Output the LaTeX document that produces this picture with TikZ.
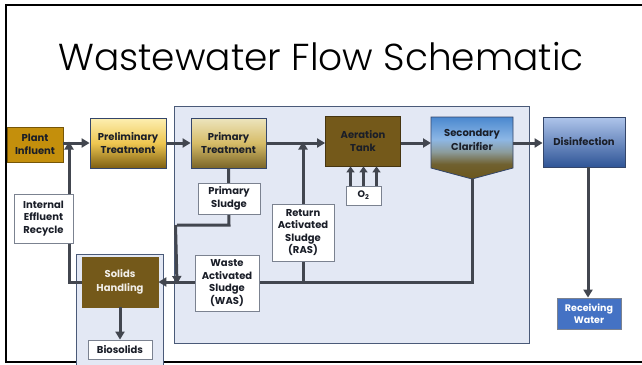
\documentclass[tikz,border=0pt]{standalone}
\usepackage{fontspec}
\setmainfont{Poppins}[BoldFont={Poppins Bold}]
\newfontfamily\titlefont{Poppins Light}
\usetikzlibrary{arrows.meta}

\definecolor{ink}{HTML}{1A1E28}
\definecolor{wire}{HTML}{42464F}
\definecolor{panelfill}{HTML}{E3E8F4}
\definecolor{paneledge}{HTML}{4A5A78}
\definecolor{tagedge}{HTML}{7B8290}
\definecolor{gold}{HTML}{C48F0C}
\definecolor{olive}{HTML}{74591A}
\definecolor{navyedge}{HTML}{34466A}
\definecolor{riverblue}{HTML}{4472C4}
% gradient stops
\definecolor{preTop}{HTML}{FDEFB2}
\definecolor{preMid}{HTML}{EEC650}
\definecolor{preBot}{HTML}{7E5F12}
\definecolor{priTop}{HTML}{EDE5BE}
\definecolor{priMid}{HTML}{D6BC68}
\definecolor{priBot}{HTML}{7A6528}
\definecolor{clTop}{HTML}{4A88CF}
\definecolor{clMid}{HTML}{8DB7E5}
\definecolor{clLow}{HTML}{8C9C9C}
\definecolor{clBot}{HTML}{6B561C}
\definecolor{disTop}{HTML}{AFC5EB}
\definecolor{disBot}{HTML}{2F5597}

\pgfdeclareverticalshading{prelimshade}{100bp}{color(0bp)=(preBot); color(25bp)=(preBot); color(50bp)=(preMid); color(75bp)=(preTop); color(100bp)=(preTop)}
\pgfdeclareverticalshading{primshade}{100bp}{color(0bp)=(priBot); color(25bp)=(priBot); color(50bp)=(priMid); color(75bp)=(priTop); color(100bp)=(priTop)}
\pgfdeclareverticalshading{clarshade}{100bp}{color(0bp)=(clBot); color(25bp)=(clBot); color(37bp)=(clBot!85!clLow); color(47bp)=(clLow); color(57bp)=(clMid); color(75bp)=(clTop); color(100bp)=(clTop)}
\pgfdeclareverticalshading{disshade}{100bp}{color(0bp)=(disBot); color(25bp)=(disBot); color(75bp)=(disTop); color(100bp)=(disTop)}

\tikzset{
  unit/.style={draw=navyedge, line width=0.8pt, rectangle, inner sep=0pt, align=center,
    text=ink, font=\bfseries\fontsize{10}{13.5}\selectfont},
  tag/.style={draw=tagedge, fill=white, line width=0.8pt, rectangle, inner sep=0pt, align=center,
    text=ink, font=\bfseries\fontsize{10}{12.5}\selectfont},
  panel/.style={draw=paneledge, fill=panelfill, line width=0.8pt},
  flow/.style={draw=wire, line width=3pt, -{Triangle[length=8pt,width=9pt]}},
  pipe/.style={draw=wire, line width=3pt},
}

\begin{document}
\begin{tikzpicture}[x=1pt, y=-1pt]
\useasboundingbox (0,0) rectangle (642,364);
\fill[white] (0,0) rectangle (642,364);

% slide frame (left, top and bottom edges)
\draw[black, line width=2.5pt] (642,5) -- (6,5) -- (6,362) -- (642,362);

% title
\node[font=\titlefont\fontsize{37.5}{44}\selectfont, text=black] (title) at (321,57) {Wastewater Flow Schematic};

% background panels
\draw[panel] (174,106) rectangle (529,343);
\draw[panel] (76,254) rectangle (163,366);

% process units
\node[unit, fill=gold, draw=gold!60!black, minimum width=56pt, minimum height=35pt] (inf) at (35,144.5) {Plant\\Influent};
\node[unit, shading=prelimshade, minimum width=76pt, minimum height=50pt] (pre) at (128,143) {Preliminary\\Treatment};
\node[unit, shading=primshade, minimum width=75pt, minimum height=50pt] (pri) at (228.5,143) {Primary\\Treatment};
\node[unit, fill=olive, draw=olive!60!black, minimum width=75pt, minimum height=50pt] (aer) at (363,141) {Aeration\\Tank};
\node[unit, shading=disshade, minimum width=82pt, minimum height=50pt] (dis) at (584,142) {Disinfection};

% secondary clarifier with hopper bottom
\shade[shading=clarshade, draw=navyedge, line width=0.8pt]
  (431,117) -- (513,117) -- (513,168) -- (472,179) -- (431,168) -- cycle;
\node[font=\bfseries\fontsize{10}{13.5}\selectfont, text=ink, align=center] (clar) at (472,140) {Secondary\\Clarifier};
\coordinate (clarL) at (431,143);
\coordinate (clarR) at (513,143);
\coordinate (clarTip) at (472,179);

% solids train and receiving water
\node[unit, fill=olive, draw=olive, text=white!90!olive, minimum width=76pt, minimum height=50pt] (sol) at (120,282) {Solids\\Handling};
\node[tag, minimum width=64pt, minimum height=19pt] (bio) at (120,349.5) {Biosolids};
\node[unit, fill=riverblue, draw=tagedge, text=white, font=\bfseries\fontsize{9.5}{12}\selectfont, minimum width=64pt, minimum height=31pt] (rec) at (589,313.5) {Receiving\\Water};

% routing points
\coordinate (recyTop) at (69,143);
\coordinate (recyBot) at (69,282);
\coordinate (rasTop) at (303,143);
\coordinate (rasBot) at (303,282);
\coordinate (clarBot) at (472,282);
\coordinate (psBend) at (229,225);
\coordinate (psCorner) at (177,225);
\coordinate (psEnd) at (177,282);
\coordinate (disOut) at (588,167);

% main flow line
\draw[flow] (inf.east |- pre) -- (pre.west);
\draw[flow] (pre.east) -- (pri.west);
\draw[flow] (pri.east |- rasTop) -- (aer.west |- rasTop);
\draw[flow] (aer.east |- rasTop) -- (clarL);
\draw[flow] (clarR) -- (dis.west |- clarR);
\draw[flow] (disOut) -- (disOut |- rec.north);

% internal effluent recycle
\draw[pipe] (sol.west |- recyBot) -- (recyBot) -- ++(0,-60);
\draw[flow] (69,200) -- ([yshift=1.5pt]recyTop);
\node[tag, minimum width=59pt, minimum height=49pt] (ier) at (43.5,218.5) {Internal\\Effluent\\Recycle};

% return / waste activated sludge
\draw[pipe] (clarTip) -- (clarBot) -- (rasBot);
\draw[flow] (rasBot) -- ([yshift=1.5pt]rasTop);
\draw[flow] (rasBot) -- (sol.east |- rasBot);
\node[tag, minimum width=62pt, minimum height=57pt] (ras) at (303,232.5) {Return\\Activated\\Sludge\\(RAS)};
\node[tag, minimum width=64pt, minimum height=56pt] (was) at (227,283) {Waste\\Activated\\Sludge\\(WAS)};

% primary sludge draw-off
\draw[pipe] (pri.south) -- (psBend) -- (psCorner);
\draw[flow] ([xshift=-1.5pt]psCorner) -- ([yshift=-2pt]psEnd);
\node[tag, minimum width=62pt, minimum height=31pt] (ps) at (229,198.5) {Primary\\Sludge};

% aeration air supply
\node[tag, font=\bfseries\fontsize{9.5}{11}\selectfont, minimum width=35pt, minimum height=19pt] (o2) at (363.5,195.5) {O\textsubscript{2}};
\foreach \dx in {-13,0,13}
  \draw[flow, line width=2.5pt, -{Triangle[length=6pt,width=8pt]}] ([xshift=\dx pt]o2.north) -- ([xshift=\dx pt]o2.north |- aer.south);

% solids to biosolids
\draw[flow] (sol.south) -- (bio.north);
\end{tikzpicture}
\end{document}
